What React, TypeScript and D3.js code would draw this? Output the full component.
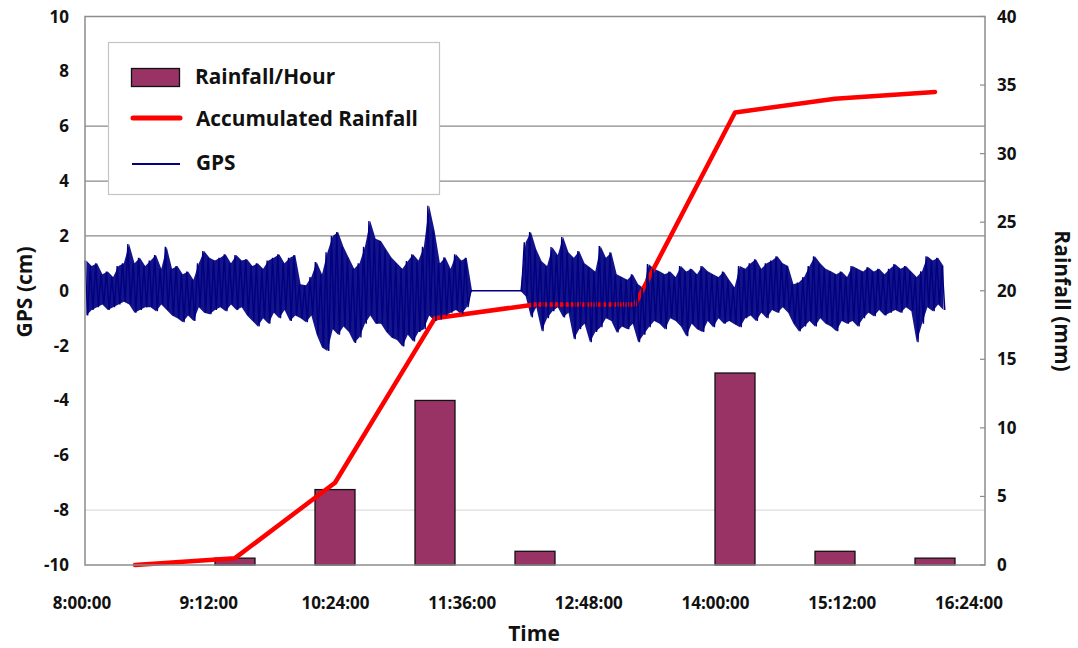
import React, { useEffect, useRef } from "react";
import * as d3 from "d3";

// hourly rainfall categories (bars + accumulated line)
const hours = ["08-09", "09-10", "10-11", "11-12", "12-13", "13-14", "14-15", "15-16", "16-17"];
const rainHourly = [0, 0.5, 5.5, 12, 1, 0, 14, 1, 0.5];
const rainAccum = [0, 0.5, 6, 18, 19, 19, 33, 34, 34.5];

// time axis labels
const timeTicks = ["8:00:00", "9:12:00", "10:24:00", "11:36:00", "12:48:00", "14:00:00", "15:12:00", "16:24:00"];
const gpsTicks = [-10, -8, -6, -4, -2, 0, 2, 4, 6, 8, 10];
const rainTicks = [0, 5, 10, 15, 20, 25, 30, 35, 40];

// GPS record, 3 minute bins from 8:00, max / min of each bin (cm)
const gpsStepMin = 3;
const gpsHi = [
  1.1, 0.9, 1.0, 0.6, 0.7, 0.5, 0.9, 1.0, 1.7, 1.0, 1.2, 0.9, 1.1, 1.3, 0.8, 1.6,
  0.8, 0.9, 0.6, 0.7, 0.4, 1.0, 1.45, 1.2, 1.1, 1.2, 1.33, 1.0, 1.3, 1.1,
  1.15, 0.9, 1.0, 0.8, 1.1, 1.2, 1.33, 1.0, 1.2, 1.3, 0.24, 0.2, 0.5, 1.05, 0.6,
  1.4, 2.0, 2.14, 1.6, 1.2, 0.8, 1.0, 1.6, 2.54, 1.9, 1.81, 1.5, 1.2, 1.0, 0.8, 1.08,
  1.33, 1.1, 1.6, 3.1, 2.2, 1.0, 1.22, 0.8, 1.33, 1.1, 1.2,
  0, 0, 0, 0, 0, 0, 0, 0, 0, 0,
  1.77, 2.14, 1.5, 1.08, 0.9, 1.59, 1.3, 1.96, 1.4, 1.2, 1.45, 1.0, 0.86, 0.7,
  1.63, 1.2, 1.4, 0.6, 0.5, 0.4, 0.6, 0.24, 0.1, 0.97, 0.8, 0.71, 0.6, 0.7, 0.5,
  0.9, 0.7, 0.8, 0.6, 0.9, 0.71, 0.6, 0.5, 0.7, 0.4, 0.13, 0.9, 0.8,
  1.0, 1.15, 0.8, 1.0, 1.1, 1.26, 1.0, 0.9, 0.24, 0.3, 0.5, 0.9, 1.26, 1.0, 0.8,
  0.71, 0.6, 0.7, 0.5, 0.9, 0.8, 0.7, 0.86, 0.7, 0.8, 0.6, 0.8, 0.97, 0.8, 0.9, 0.7,
  0.5, 0.71, 1.26, 1.1, 1.2, 0.9,
];
const gpsLo = [
  -0.9, -0.7, -0.6, -0.5, -0.7, -0.6, -0.5, -0.4, -0.5, -0.8, -0.7, -0.6, -0.6, -0.75, -0.5, -0.7,
  -0.9, -1.0, -1.15, -0.9, -1.1, -0.6, -0.8, -0.86, -0.7, -0.6, -0.75, -0.5, -0.7, -0.6,
  -0.9, -1.1, -1.3, -1.0, -1.2, -0.8, -1.0, -0.7, -1.1, -0.9, -1.0, -1.15, -0.9, -1.6, -2.07,
  -2.2, -1.4, -1.6, -1.3, -1.5, -1.9, -1.7, -1.2, -0.9, -1.2, -1.2, -1.5, -1.71, -1.8, -2.03, -1.6,
  -1.85, -1.5, -1.4, -0.9, -1.1, -1.05, -0.9, -0.8, -0.7, -0.86, -0.6,
  0, 0, 0, 0, 0, 0, 0, 0, 0, 0,
  -0.2, -0.97, -0.6, -1.48, -1.0, -0.75, -0.6, -0.97, -0.8, -1.77, -1.4, -1.2, -1.88, -1.5,
  -1.33, -1.0, -1.1, -1.52, -1.3, -1.4, -1.2, -1.88, -1.6, -1.33, -1.1, -1.2, -1.4, -1.0, -1.1,
  -1.3, -1.66, -1.2, -1.4, -1.5, -1.1, -1.33, -1.0, -1.2, -1.1, -1.22, -1.33, -1.0,
  -0.9, -1.1, -0.8, -1.0, -0.7, -0.8, -0.6, -0.8, -1.2, -1.48, -1.3, -1.1, -1.3, -1.0, -1.2,
  -1.3, -1.48, -1.1, -1.2, -1.1, -1.3, -1.0, -0.8, -0.93, -0.7, -0.9, -0.8, -0.7, -0.8, -0.6, -0.75,
  -1.88, -1.2, -0.6, -0.75, -0.5, -0.7,
];

const W = 1078;
const H = 648;
const plot = { left: 85, right: 985, top: 16.5, bottom: 565 };
const font = "'Open Sans', 'DejaVu Sans', sans-serif";

function parseClock(s: string) {
  const [h, m, sec] = s.split(":").map(Number);
  return new Date(2000, 0, 1, h, m, sec);
}

export default function App() {
  const ref = useRef<SVGSVGElement>(null);

  useEffect(() => {
    const svg = d3.select(ref.current);
    svg.selectAll("*").remove();

    const yGps = d3.scaleLinear().domain([-10, 10]).range([plot.bottom, plot.top]);
    const yRain = d3.scaleLinear().domain([0, 40]).range([plot.bottom, plot.top]);
    const tStart = parseClock("8:00:00");
    const xTime = d3.scaleTime().domain([tStart, parseClock("16:24:00")]).range([plot.left, plot.right]);
    const xLabel = xTime.copy().range([82, 969]);
    const xBand = d3.scaleBand().domain(hours).range([plot.left, plot.right]).paddingInner(0.6).paddingOuter(0.3);
    const bw = xBand.bandwidth();
    const xMin = (m: number) => xTime(new Date(tStart.getTime() + m * 60000));

    // gridlines
    const g = svg.append("g");
    g.selectAll("line.major").data([2, 4, 6]).join("line")
      .attr("x1", plot.left).attr("x2", plot.right)
      .attr("y1", (d) => yGps(d)).attr("y2", (d) => yGps(d))
      .attr("stroke", "#8a8a8a").attr("stroke-width", 1.2);
    g.append("line")
      .attr("x1", plot.left).attr("x2", plot.right)
      .attr("y1", yGps(-8)).attr("y2", yGps(-8))
      .attr("stroke", "#dcdcdc").attr("stroke-width", 1.2);

    // bars
    g.selectAll("rect.bar").data(hours.map((h, i) => ({ h, v: rainHourly[i] })).filter((d) => d.v > 0)).join("rect")
      .attr("x", (d) => xBand(d.h)!)
      .attr("width", bw)
      .attr("y", (d) => yRain(d.v))
      .attr("height", (d) => plot.bottom - yRain(d.v))
      .attr("fill", "#993366").attr("stroke", "#111").attr("stroke-width", 1.3);

    // GPS band between bin min and max
    const gpsBins = gpsHi.map((hi, i) => ({ m: i * gpsStepMin + gpsStepMin / 4, hi, lo: gpsLo[i] }));
    const gpsArea = d3.area<{ m: number; hi: number; lo: number }>()
      .x((d) => xMin(d.m))
      .y0((d) => yGps(d.lo))
      .y1((d) => yGps(d.hi));
    g.append("path").attr("d", gpsArea(gpsBins)).attr("fill", "#000080").attr("opacity", 0.92);

    // accumulated rainfall
    const accLine = d3.line<number>()
      .x((_, i) => xBand(hours[i])! + bw / 2)
      .y((d) => yRain(d));
    g.append("path").attr("d", accLine(rainAccum))
      .attr("fill", "none").attr("stroke", "#ff0000").attr("stroke-width", 4.5)
      .attr("stroke-linejoin", "round").attr("stroke-linecap", "round");

    // GPS max/min trace on top
    const gpsPts: [number, number][] = [];
    gpsHi.forEach((hi, i) => {
      const m = i * gpsStepMin;
      gpsPts.push([m, hi]);
      gpsPts.push([m + gpsStepMin / 2, gpsLo[i]]);
    });
    const gpsLine = d3.line<[number, number]>()
      .x((d) => xMin(d[0]))
      .y((d) => yGps(d[1]));
    g.append("path").attr("d", gpsLine(gpsPts))
      .attr("fill", "none").attr("stroke", "#000080").attr("stroke-width", 1.4);

    // frame / axes
    const axisColor = "#8c8c8c";
    g.append("rect")
      .attr("x", plot.left).attr("y", plot.top)
      .attr("width", plot.right - plot.left).attr("height", plot.bottom - plot.top)
      .attr("fill", "none").attr("stroke", axisColor).attr("stroke-width", 1.5);
    g.selectAll("line.rtick").data(rainTicks).join("line")
      .attr("x1", plot.right - 5).attr("x2", plot.right)
      .attr("y1", (d) => yRain(d)).attr("y2", (d) => yRain(d))
      .attr("stroke", axisColor).attr("stroke-width", 1.2);

    // tick labels
    const lab = svg.append("g").attr("font-family", font).attr("font-weight", 700).attr("font-size", 17).attr("fill", "#111");
    lab.selectAll("text.l").data(gpsTicks).join("text")
      .attr("x", 69).attr("y", (d) => yGps(d) + 6).attr("text-anchor", "end").text((d) => String(d));
    lab.selectAll("text.r").data(rainTicks).join("text")
      .attr("x", 997).attr("y", (d) => yRain(d) + 6).text((d) => String(d));
    lab.selectAll("text.x").data(timeTicks).join("text")
      .attr("x", (d) => xLabel(parseClock(d))).attr("y", 609).attr("text-anchor", "middle").text((d) => d);

    // axis titles
    const tt = svg.append("g").attr("font-family", font).attr("font-weight", 700).attr("font-size", 21).attr("fill", "#111");
    tt.append("text").attr("x", 534).attr("y", 641).attr("text-anchor", "middle").text("Time");
    tt.append("text").attr("transform", "translate(32,292) rotate(-90)").attr("text-anchor", "middle").text("GPS (cm)");
    tt.append("text").attr("transform", "translate(1055,301) rotate(90)").attr("text-anchor", "middle").text("Rainfall (mm)");

    // legend
    const lg = svg.append("g");
    lg.append("rect").attr("x", 108.5).attr("y", 42.5).attr("width", 331).attr("height", 152)
      .attr("fill", "#fff").attr("stroke", "#c4c4c4").attr("stroke-width", 1.2);
    lg.append("rect").attr("x", 131.5).attr("y", 68.5).attr("width", 48).attr("height", 18)
      .attr("fill", "#993366").attr("stroke", "#111").attr("stroke-width", 1.3);
    lg.append("line").attr("x1", 133).attr("x2", 180).attr("y1", 118).attr("y2", 118)
      .attr("stroke", "#ff0000").attr("stroke-width", 5).attr("stroke-linecap", "round");
    lg.append("line").attr("x1", 132).attr("x2", 180).attr("y1", 164).attr("y2", 164)
      .attr("stroke", "#000080").attr("stroke-width", 2);
    const lt = lg.append("g").attr("font-family", font).attr("font-weight", 700).attr("font-size", 20.8).attr("fill", "#111");
    lt.append("text").attr("x", 195).attr("y", 84).text("Rainfall/Hour");
    lt.append("text").attr("x", 196).attr("y", 126).text("Accumulated Rainfall");
    lt.append("text").attr("x", 196).attr("y", 170).text("GPS");
  }, []);

  return (
    <svg
      ref={ref}
      width={W}
      height={H}
      style={{ position: "absolute", left: 0, top: 0, background: "#fff" }}
    />
  );
}
